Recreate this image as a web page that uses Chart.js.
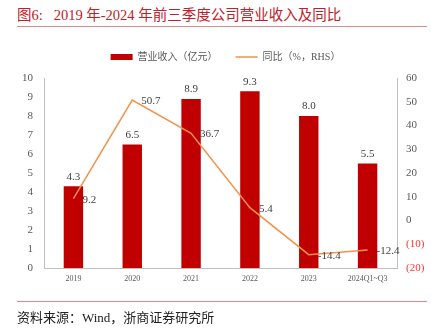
<!DOCTYPE html>
<html>
<head>
<meta charset="utf-8">
<script src="https://cdn.jsdelivr.net/npm/chart.js@4/dist/chart.umd.min.js"></script>
<style>
  body { margin: 0; background: #fff; }
  #wrap { position: relative; width: 431px; height: 331px; overflow: hidden; }
  #chart { position: absolute; left: 0; top: 0; }
  .title { position: absolute; left: 17px; top: 3px; font: 14.5px 'Liberation Serif', 'Noto Sans CJK SC', serif; color: #c0202a; white-space: nowrap; }
  .rule { position: absolute; left: 17px; width: 410px; height: 1px; background: #e08a8a; }
  .source { position: absolute; left: 17px; top: 307px; font: 13px 'Liberation Serif', 'Noto Sans CJK SC', serif; color: #222; white-space: nowrap; }
</style>
</head>
<body>
<div id="wrap">
  <div class="title">图6:&nbsp;&nbsp; 2019 年-2024 年前三季度公司营业收入及同比</div>
  <div class="rule" style="top:26px"></div>
  <canvas id="chart" width="431" height="331"></canvas>
  <div class="rule" style="top:301px"></div>
  <div class="source">资料来源：Wind，浙商证券研究所</div>
</div>
<script>
const years = ['2019', '2020', '2021', '2022', '2023', '2024Q1~Q3']
const revenue = [4.3, 6.5, 8.9, 9.3, 8.0, 5.5]
const growth = [9.2, 50.7, 36.7, 5.4, -14.4, -12.4]

const FONT = "'Liberation Serif', 'Noto Sans CJK SC', serif"
const GRAY = '#595959'

// fixed legend height so the plot starts where the original does
const legendHeight = {
  id: 'legendHeight',
  beforeInit(chart) {
    const fit = chart.legend.fit
    chart.legend.fit = function () {
      fit.bind(chart.legend)()
      this.height = 44
    }
  },
}

const valueLabels = {
  id: 'valueLabels',
  afterDatasetsDraw(chart) {
    const ctx = chart.ctx
    ctx.save()
    ctx.font = '11px ' + FONT
    ctx.fillStyle = '#404040'
    chart.getDatasetMeta(0).data.forEach((el, i) => {
      ctx.textAlign = 'center'
      ctx.textBaseline = 'bottom'
      ctx.fillText(revenue[i].toFixed(1), el.x, el.y - 4)
    })
    chart.getDatasetMeta(1).data.forEach((el, i) => {
      ctx.textAlign = 'left'
      ctx.textBaseline = 'middle'
      ctx.fillText(growth[i].toFixed(1), el.x + 9, el.y + 1)
    })
    ctx.restore()
  },
}

new Chart(document.getElementById('chart'), {
  type: 'bar',
  data: {
    labels: years,
    datasets: [
      {
        label: '营业收入（亿元）',
        data: revenue,
        backgroundColor: '#c00000',
        barPercentage: 0.33,
        categoryPercentage: 1,
        yAxisID: 'y',
        order: 1,
      },
      {
        type: 'line',
        label: '同比（%，RHS）',
        data: growth,
        borderColor: '#f4914a',
        backgroundColor: '#f4914a',
        borderWidth: 1.5,
        pointRadius: 0,
        tension: 0,
        yAxisID: 'y1',
        order: 0,
      },
    ],
  },
  options: {
    responsive: false,
    animation: false,
    layout: { padding: { top: 34, bottom: 40, left: 20, right: 0 } },
    plugins: {
      legend: {
        labels: {
          usePointStyle: true,
          pointStyleWidth: 22,
          boxHeight: 6,
          padding: 18,
          color: GRAY,
          font: { family: FONT, size: 10 },
          generateLabels(chart) {
            return chart.data.datasets.map((ds, i) => ({
              text: ds.label,
              fillStyle: ds.backgroundColor,
              strokeStyle: ds.type === 'line' ? ds.borderColor : ds.backgroundColor,
              lineWidth: ds.type === 'line' ? 1.5 : 0,
              pointStyle: ds.type === 'line' ? 'line' : 'rect',
              fontColor: GRAY,
              datasetIndex: i,
            }))
          },
        },
      },
      tooltip: { enabled: false },
    },
    scales: {
      x: {
        grid: { display: false, drawTicks: false },
        border: { display: true, color: '#bfbfbf' },
        ticks: { color: GRAY, font: { family: FONT, size: 8 }, padding: 6, maxRotation: 0 },
        afterFit(scale) { scale.height = 23 },
      },
      y: {
        position: 'left',
        min: 0,
        max: 10,
        grid: { display: false, drawTicks: false },
        border: { display: true, color: '#bfbfbf' },
        ticks: { stepSize: 1, color: GRAY, font: { family: FONT, size: 11 }, padding: 11 },
        afterFit(scale) { scale.width = 24 },
      },
      y1: {
        position: 'right',
        min: -20,
        max: 60,
        grid: { display: false, drawTicks: false },
        border: { display: true, color: '#bfbfbf' },
        ticks: {
          stepSize: 10,
          font: { family: FONT, size: 11 },
          padding: 9,
          color: (c) => (c.tick && c.tick.value < 0 ? '#ff3030' : GRAY),
          callback: (v) => (v < 0 ? '(' + -v + ')' : v),
        },
        afterFit(scale) { scale.width = 34 },
      },
    },
  },
  plugins: [legendHeight, valueLabels],
})
</script>
</body>
</html>
